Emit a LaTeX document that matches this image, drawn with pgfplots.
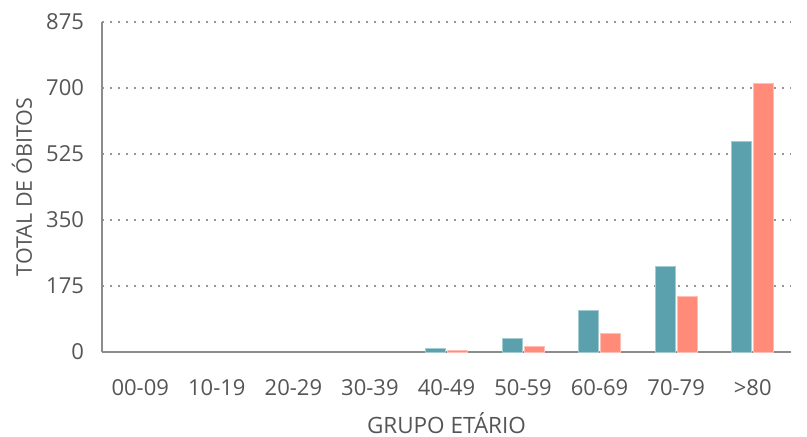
\documentclass[border=0pt]{standalone}
\usepackage{pgfplots}
\pgfplotsset{compat=1.18}
\usepackage{fontspec}
\setmainfont{Open Sans}
\usetikzlibrary{calc}
\definecolor{teal1}{RGB}{91,161,173}
\definecolor{salmon1}{RGB}{255,139,120}
\definecolor{txt}{RGB}{85,85,85}
\definecolor{axc}{RGB}{140,140,140}
\definecolor{gridc}{RGB}{150,150,150}
\begin{document}
\begin{tikzpicture}
\useasboundingbox (-102pt,-85pt) rectangle (705pt,352pt);
\begin{axis}[
  at={(0,0)}, anchor=south west,
  scale only axis, width=689pt, height=330pt,
  xmin=-0.5, xmax=8.5, ymin=0, ymax=875,
  ybar=2pt, bar width=20pt,
  axis x line*=bottom, axis y line*=left,
  axis line style={axc, line width=2pt, -},
  xtick={0,...,8},
  xticklabels={00-09,10-19,20-29,30-39,40-49,50-59,60-69,70-79,>80},
  ytick={0,175,350,525,700,875},
  major tick length=0pt,
  ymajorgrids,
  grid style={gridc, line width=1.8pt, dash pattern=on 1.8pt off 6.2pt},
  tick label style={font=\fontsize{22}{26}\selectfont, txt},
  xticklabel style={anchor=base, yshift=-43pt},
  yticklabel style={anchor=east, xshift=-14.5pt},
  /pgf/number format/assume math mode=true,
  xlabel={GRUPO ETÁRIO},
  ylabel={TOTAL DE ÓBITOS},
  xlabel style={font=\fontsize{22.5}{26}\selectfont, txt, at={(rel axis cs:0.5,0)}, anchor=base, yshift=-81pt},
  ylabel style={font=\fontsize{21.5}{26}\selectfont, txt, at={($(rel axis cs:0,0.5)+(-70pt,0)$)}, anchor=base},
]
\addplot[fill=teal1, draw=teal1!55!white, line width=0.8pt] coordinates {(4,9) (5,37) (6,111) (7,228) (8,558)};
\addplot[fill=salmon1, draw=salmon1!55!white, line width=0.8pt] coordinates {(4,5) (5,14) (6,49) (7,147) (8,711)};
\end{axis}
\end{tikzpicture}
\end{document}
